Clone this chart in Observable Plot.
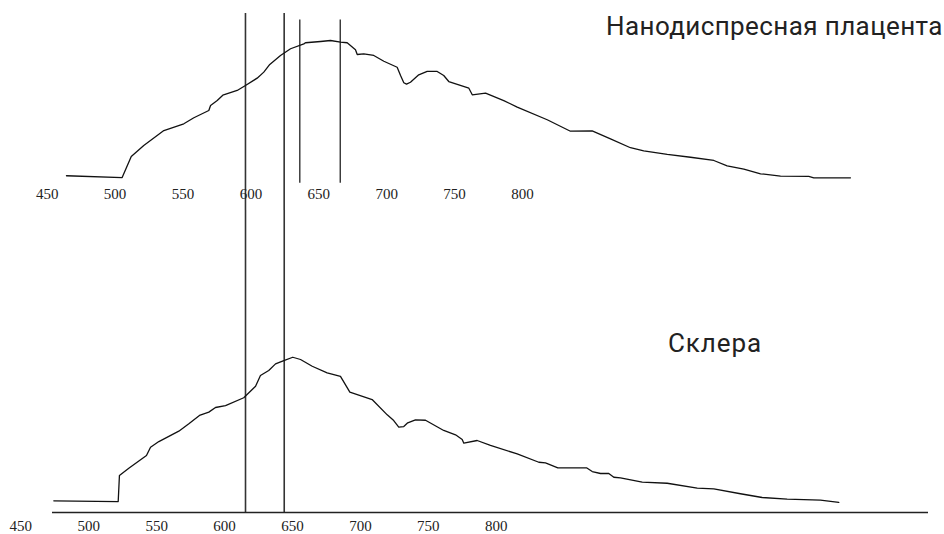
<!DOCTYPE html>
<html>
<head>
<meta charset="utf-8">
<script src="https://cdn.jsdelivr.net/npm/d3@7"></script>
<script src="https://cdn.jsdelivr.net/npm/@observablehq/plot@0.6"></script>
<style>
  html, body { margin: 0; padding: 0; background: #fff; }
  #wrap { position: relative; width: 944px; height: 534px; overflow: hidden; }
  #top, #bottom { position: absolute; left: 0; }
  #top { top: 0; }
  #bottom { top: 210px; }
  .label { position: absolute; font-family: Roboto, sans-serif; color: #222; white-space: nowrap;
           font-size: 26px; line-height: 1; }
  #label-top { left: 606px; top: 13px; letter-spacing: 0.4px; }
  #label-bottom { left: 668px; top: 330px; letter-spacing: 0.9px; }
</style>
</head>
<body>
<div id="wrap">
  <div id="top"></div>
  <div id="bottom"></div>
  <div class="label" id="label-top">Нанодиспресная плацента</div>
  <div class="label" id="label-bottom">Склера</div>
</div>
<script>
// Tick labels shown under each spectrum (nm)
const tickLabels = [450, 500, 550, 600, 650, 700, 750, 800];

// Spectrum of nanodispersed placenta: wavelength (nm) and relative intensity
const placentaNm = [464.2, 505.2, 511.9, 521.1, 535.9, 550.6, 558.0, 569.0, 570.3, 575.2,
  579.3, 589.9, 596.0, 604.6, 609.5, 613.9, 621.8, 629.2, 639.0, 640.2,
  651.3, 658.6, 666.0, 670.9, 677.0, 678.3, 683.1, 690.5, 697.9, 707.7,
  710.2, 712.6, 714.6, 717.5, 723.6, 729.8, 737.2, 742.0, 745.7, 760.5,
  763.0, 772.8, 786.2, 796.1, 818.2, 835.3, 851.3, 864.8, 879.5, 889.3,
  906.6, 923.7, 940.9, 950.7, 963.0, 975.3, 990.0, 1010.8, 1014.5, 1041.5];
const placentaI = [3.4, 2.1, 17.1, 25.0, 35.7, 40.5, 44.8, 50.0, 53.6, 57.1,
  60.9, 64.3, 67.9, 73.1, 77.4, 82.9, 89.3, 94.1, 97.6, 98.4,
  99.3, 100.0, 98.8, 98.4, 93.4, 90.0, 90.5, 89.3, 85.2, 80.9,
  75.0, 69.8, 68.8, 70.2, 75.5, 77.9, 77.9, 75.0, 70.7, 65.9,
  61.2, 62.4, 57.1, 52.4, 43.4, 35.2, 35.5, 29.8, 23.4, 21.2,
  18.6, 16.6, 14.3, 10.5, 8.1, 4.8, 3.1, 2.9, 1.9, 1.9];

// Spectrum of sclera: wavelength (nm) and relative intensity
const scleraNm = [474.3, 521.7, 522.6, 529.5, 542.5, 545.5, 551.6, 566.3, 573.7, 581.5,
  588.4, 593.3, 600.7, 614.1, 622.8, 626.4, 632.5, 637.5, 643.6, 650.2,
  655.9, 664.5, 675.5, 685.3, 692.2, 708.6, 719.7, 724.5, 728.2, 731.9,
  734.8, 740.5, 747.9, 761.3, 770.0, 774.9, 776.1, 785.9, 795.7, 815.4,
  831.3, 836.2, 845.3, 866.4, 870.6, 876.7, 882.8, 886.5, 891.4, 907.4,
  925.8, 947.9, 960.1, 979.7, 995.7, 1014.1, 1038.6, 1052.1];
const scleraI = [7.8, 7.3, 24.7, 29.5, 38.0, 43.5, 47.3, 54.2, 59.1, 64.7,
  66.9, 70.0, 71.3, 76.5, 84.2, 91.3, 94.7, 99.1, 101.3, 103.5,
  102.0, 97.5, 93.1, 90.7, 80.2, 75.3, 65.1, 61.3, 56.9, 57.3,
  59.8, 61.8, 61.5, 54.7, 51.8, 48.7, 46.2, 48.0, 44.7, 39.1,
  33.5, 33.1, 29.8, 29.8, 27.3, 26.0, 26.0, 23.5, 23.1, 20.2,
  19.5, 16.2, 15.8, 12.5, 10.0, 8.9, 8.2, 6.7];

// Marker wavelengths (nm)
const placentaLongMarkers = [596.0, 624.5];
const placentaShortMarkers = [636.0, 665.8];
const placentaShortSpan = [-1.9, 114.6];
const scleraMarkers = [615.4, 643.9];

const placenta = placentaNm.map((x, i) => ({x, y: placentaI[i]}));
const sclera = scleraNm.map((x, i) => ({x, y: scleraI[i]}));

const tickFont = {fontFamily: "'Liberation Serif', serif", fontSize: 15, label: null, tickFormat: d => String(d)};

const topChart = Plot.plot({
  width: 944,
  height: 210,
  marginTop: 13,
  marginBottom: 0,
  marginLeft: 0,
  marginRight: 0,
  style: {background: "transparent", color: "#222"},
  x: {type: "linear", domain: [450, 800], range: [46.7, 522.0]},
  y: {domain: [0, 100], range: [180, 40], axis: null},
  marks: [
    Plot.ruleX(placentaLongMarkers, {stroke: "#333", strokeWidth: 1.6}),
    Plot.ruleX(placentaShortMarkers, {y1: placentaShortSpan[0], y2: placentaShortSpan[1], stroke: "#333", strokeWidth: 1.4}),
    Plot.line(placenta, {x: "x", y: "y", stroke: "#111", strokeWidth: 1.3}),
    Plot.axisX({ticks: tickLabels, tickSize: 0, tickPadding: 0, dy: -22, ...tickFont})
  ]
});
document.getElementById("top").appendChild(topChart);

const bottomChart = Plot.plot({
  width: 944,
  height: 324,
  marginTop: 0,
  marginBottom: 22,
  marginLeft: 52,
  marginRight: 16,
  style: {background: "transparent", color: "#222"},
  x: {type: "linear", domain: [450, 800], range: [20.3, 495.8]},
  y: {domain: [0, 100], range: [302, 152], axis: null},
  marks: [
    Plot.ruleX(scleraMarkers, {stroke: "#333", strokeWidth: 1.6}),
    Plot.ruleY([0], {stroke: "#222", strokeWidth: 1.5}),
    Plot.line(sclera, {x: "x", y: "y", stroke: "#111", strokeWidth: 1.3}),
    Plot.axisX({ticks: tickLabels, tickSize: 0, tickPadding: 8, ...tickFont})
  ]
});
document.getElementById("bottom").appendChild(bottomChart);
</script>
</body>
</html>
